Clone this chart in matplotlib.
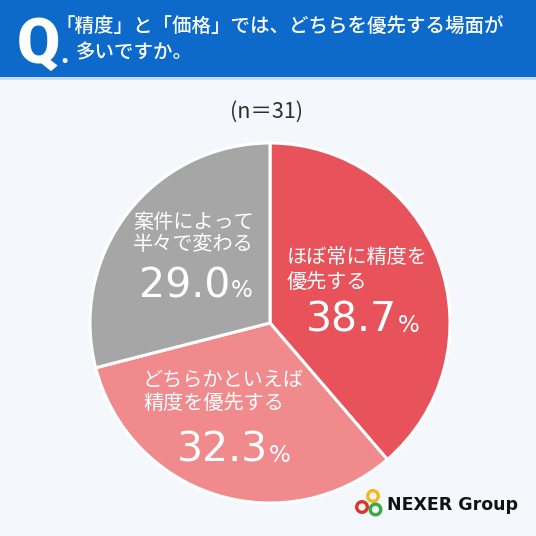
import matplotlib
matplotlib.use('Agg')
import matplotlib.pyplot as plt
from matplotlib.patches import Rectangle, Circle

# ---- data ----
categories = ['ほぼ常に精度を\n優先する', 'どちらかといえば\n精度を優先する', '案件によって\n半々で変わる']
values = [38.7, 32.3, 29.0]
colors = ['#E8525A', '#F08A8C', '#A6A6A6']
title_lines = ['「精度」と「価格」では、どちらを優先する場面が', '多いですか。']
sample_label = '(n＝31)'
brand = 'NEXER Group'

JP = ['Noto Sans CJK JP', 'DejaVu Sans']
W = H = 536
BG = '#F4F7FC'

fig = plt.figure(figsize=(5.36, 5.36), dpi=100, facecolor=BG)

# background / header layer (pixel coordinates, y down)
bg = fig.add_axes([0, 0, 1, 1])
bg.set_xlim(0, W); bg.set_ylim(H, 0); bg.axis('off')
bg.add_patch(Rectangle((0, 0), W, 77, color='#0D6ACB', lw=0))
bg.add_patch(Rectangle((0, 77), W, 2.5, color='#C7DDF4', lw=0))

# pie
cx, cy, r = 270, 323, 180
pax = fig.add_axes([(cx - r) / W, (H - cy - r) / H, 2 * r / W, 2 * r / H])
wedges, _ = pax.pie(values, colors=colors, startangle=90, counterclock=False,
                    radius=1, wedgeprops=dict(edgecolor='white', linewidth=2.2))
pax.set_xlim(-1, 1); pax.set_ylim(-1, 1)
pax.set_aspect('equal'); pax.axis('off')

# overlay for text (pixel coordinates)
ov = fig.add_axes([0, 0, 1, 1])
ov.set_xlim(0, W); ov.set_ylim(H, 0); ov.axis('off')
ov.patch.set_alpha(0)

# header text
ov.text(17, 63, 'Q', color='white', fontsize=45, fontweight='heavy',
        family=['Roboto', 'DejaVu Sans'], ha='left', va='baseline')
ov.text(60, 63, '.', color='white', fontsize=20, fontweight='heavy',
        family=['Roboto', 'DejaVu Sans'], ha='left', va='baseline')
ov.text(55, 26, title_lines[0], color='white', fontsize=14, family=JP,
        fontweight='medium', ha='left', va='center')
ov.text(76, 53, title_lines[1], color='white', fontsize=14, family=JP,
        fontweight='medium', ha='left', va='center')

# sample size
ov.text(267, 112, sample_label, color='#2E2E2E', fontsize=15.5, family=JP,
        ha='center', va='center')

# slice labels: (line x, first line y, line gap, number right x, number baseline y)
label_pos = [
    (287, 257, 25, 397, 332),
    (143, 380, 23, 268, 462),
    (133, 222, 22, 230, 297),
]
for cat, val, (lx, ly, gap, nx, ny) in zip(categories, values, label_pos):
    for i, line in enumerate(cat.split('\n')):
        ov.text(lx, ly + i * gap, line, color='white', fontsize=14.5, family=JP,
                ha='left', va='center')
    ov.text(nx, ny, f'{val:.1f}', color='white', fontsize=29.5,
            family=['DejaVu Sans'], ha='right', va='baseline')
    ov.text(nx + 1, ny, '%', color='white', fontsize=16.5,
            family=['DejaVu Sans'], ha='left', va='baseline')

# logo
for (x, y, c) in [(362, 507, '#D9352B'), (373, 496, '#F2B81E'), (375.5, 509.5, '#3BAA45')]:
    ov.add_patch(Circle((x, y), 5.3, fill=False, edgecolor=c, lw=2.4))
ov.text(387, 505, brand, color='#111111', fontsize=12.5, fontweight='bold',
        family=['DejaVu Sans'], ha='left', va='center')

fig.savefig('out.png', dpi=100, facecolor=BG)
